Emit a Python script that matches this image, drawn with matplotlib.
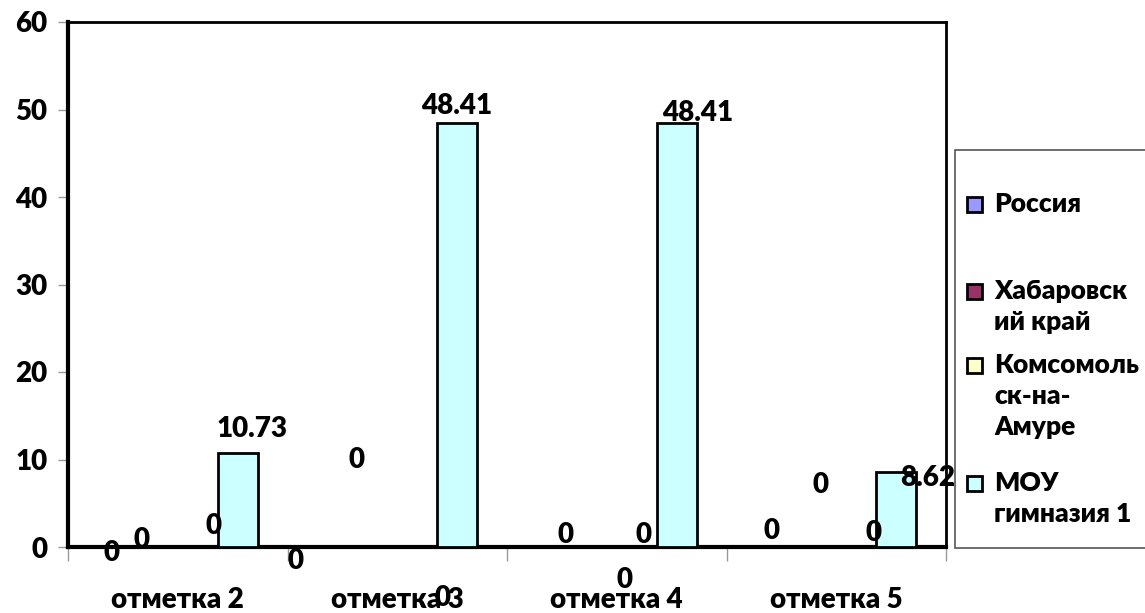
import matplotlib
matplotlib.use("Agg")
import matplotlib.pyplot as plt
from matplotlib import font_manager as fm
from matplotlib.patches import Rectangle
import numpy as np

categories = ["отметка 2", "отметка 3", "отметка 4", "отметка 5"]
series_names = ["Россия", "Хабаровский край", "Комсомольск-на-Амуре", "МОУ гимназия 1"]
legend_lines = [["Россия"], ["Хабаровск", "ий край"], ["Комсомоль", "ск-на-", "Амуре"],
                ["МОУ", "гимназия 1"]]
russia = [0, 0, 0, 0]
khabarovsk = [0, 0, 0, 0]
komsomolsk = [0, 0, 0, 0]
gymnasium = [10.73, 48.41, 48.41, 8.62]
y_ticks = [0, 10, 20, 30, 40, 50, 60]

colors = ["#9999FF", "#993366", "#FFFFCC", "#CCFFFF"]

# label offsets (pixels) of label centre relative to each bar's top-centre, per series x category
label_offsets = [
    [(-6, -6), (-42, -14), (9, 12), (-5, 16)],
    [(-16, 7), (-21, 87), (28, -33), (4, 62)],
    [(16, 21), (25, -51), (7, 12), (17, 14)],
    [(14, 24), (-1, 17), (21, 10), (31, -6)],
]

# pick a heavy font file explicitly
bold_path = None
for wt in (800, 900, 700):
    for f in fm.fontManager.ttflist:
        if f.name == "Lato" and f.weight == wt and f.style == "normal":
            bold_path = f.fname
            break
    if bold_path:
        break


def FP(size):
    if bold_path:
        return fm.FontProperties(fname=bold_path, size=size)
    return fm.FontProperties(family="DejaVu Sans", weight="bold", size=size)


FS = 20

fig = plt.figure(figsize=(11.45, 6.13), dpi=100)
ax = fig.add_axes([68 / 1145, 1 - 547 / 613, (946 - 68) / 1145, (547 - 22) / 613])

x = np.arange(len(categories))
w = 0.182
data = [russia, khabarovsk, komsomolsk, gymnasium]
for j, vals in enumerate(data):
    bars = ax.bar(x + (j - 1.5) * w, vals, w, color=colors[j], edgecolor="black",
                  linewidth=2, zorder=3)
    for i, b in enumerate(bars):
        v = vals[i]
        txt = "0" if v == 0 else f"{v:.2f}"
        ax.annotate(txt, (b.get_x() + b.get_width() / 2, b.get_height()),
                    xytext=label_offsets[j][i], textcoords="offset pixels",
                    ha="center", va="center", fontproperties=FP(FS),
                    zorder=5, annotation_clip=False)

ax.set_xlim(-0.5, 3.5)
ax.set_ylim(0, 60)
ax.set_yticks(y_ticks)
ax.set_yticklabels([str(t) for t in y_ticks])
for t in ax.get_yticklabels():
    t.set_fontproperties(FP(FS))
ax.tick_params(axis="y", length=7, width=1, color="#999999", pad=8)

ax.set_xticks(x)
ax.set_xticklabels(categories)
for t in ax.get_xticklabels():
    t.set_fontproperties(FP(FS))
ax.tick_params(axis="x", which="major", length=0, pad=29)
ax.set_xticks(np.arange(-0.5, 4, 1), minor=True)
ax.tick_params(axis="x", which="minor", length=10, width=1, color="#999999")

for s in ax.spines.values():
    s.set_color("black")
    s.set_linewidth(2)
ax.spines["left"].set_linewidth(3)
ax.spines["bottom"].set_linewidth(3)


# legend panel
def fx(px):
    return px / 1145


def fy(py):
    return 1 - py / 613


fig.patches.append(Rectangle((fx(955), fy(548)), fx(1150) - fx(955), fy(150) - fy(548),
                             transform=fig.transFigure, facecolor="white",
                             edgecolor="#555555", linewidth=1.2, zorder=1))
first_line_center = [203, 290, 364, 482]
line_step = 31
for j, lines in enumerate(legend_lines):
    py = first_line_center[j]
    fig.patches.append(Rectangle((fx(967), fy(py + 9)), fx(15), 15 / 613,
                                 transform=fig.transFigure, facecolor=colors[j],
                                 edgecolor="black", linewidth=2, zorder=2))
    for k, line in enumerate(lines):
        fig.text(fx(994), fy(py + 9 + k * line_step), line, ha="left", va="baseline",
                 fontproperties=FP(19), zorder=3)

fig.savefig("out.png", dpi=100)
